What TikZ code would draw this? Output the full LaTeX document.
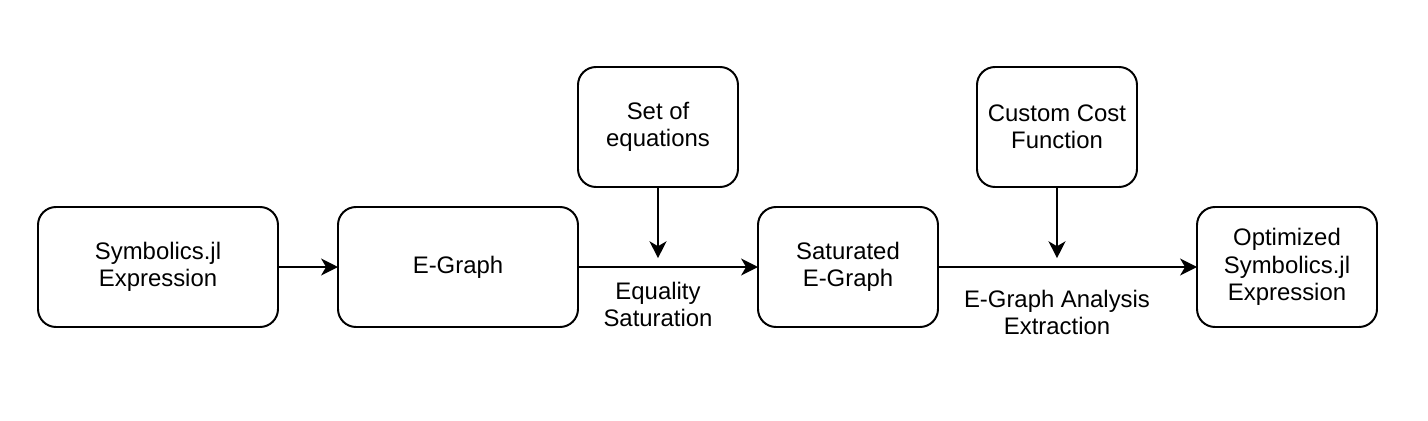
\documentclass[tikz,border=0pt]{standalone}
\usepackage{fontspec}
\setmainfont{Liberation Sans}
\usetikzlibrary{arrows.meta, positioning, calc}

\begin{document}
\begin{tikzpicture}[>={Stealth[length=12pt, width=12pt, inset=3.5pt]}, line width=1.4pt, font=\fontsize{17}{19.5}\selectfont]
    % Blocks
    \tikzstyle{block} = [rectangle, draw, rounded corners=0.45cm, text centered, minimum width=6cm, minimum height=3cm, outer sep=0pt, align=center]
    \tikzstyle{arrowtext} = [align=center, inner sep=0pt]

    \useasboundingbox (0,0) rectangle (35.7,-10.5);

    \node[block] (expr) at (3.95,-6.675) {Symbolics.jl \\ Expression};
    \node[block, right=1.5cm of expr] (egraph) {E-Graph};
    \node[block, minimum width=4.5cm, right=4.5cm of egraph] (saturated) {Saturated \\ E-Graph};
    \node[block, minimum width=4.5cm, right=6.475cm of saturated] (optimized) {Optimized \\ Symbolics.jl \\ Expression};

    % Inputs from above
    \node[block, minimum width=4cm, above right=0.5cm and 0cm of egraph.north east] (equations) {Set of \\ equations};
    \node[block, minimum width=4cm, above right=0.5cm and 0.975cm of saturated.north east] (cost) {Custom Cost \\ Function};

    % Nodes where the inputs meet the main line
    \coordinate (eqjoin) at (equations |- egraph);
    \coordinate (costjoin) at (cost |- saturated);

    % Lines
    \draw[->] (expr) -- (egraph);
    \draw[->] (egraph) -- (saturated);
    \draw[->] (saturated) -- (optimized);
    \draw[->, shorten >=0.22cm] (equations) -- (eqjoin);
    \draw[->, shorten >=0.22cm] (cost) -- (costjoin);

    % Annotations
    \node[arrowtext, below=0.35cm of eqjoin] (eqtext) {Equality \\ Saturation};
    \node[arrowtext, below=0.55cm of costjoin] (costtext) {E-Graph Analysis \\ Extraction};
\end{tikzpicture}
\end{document}
